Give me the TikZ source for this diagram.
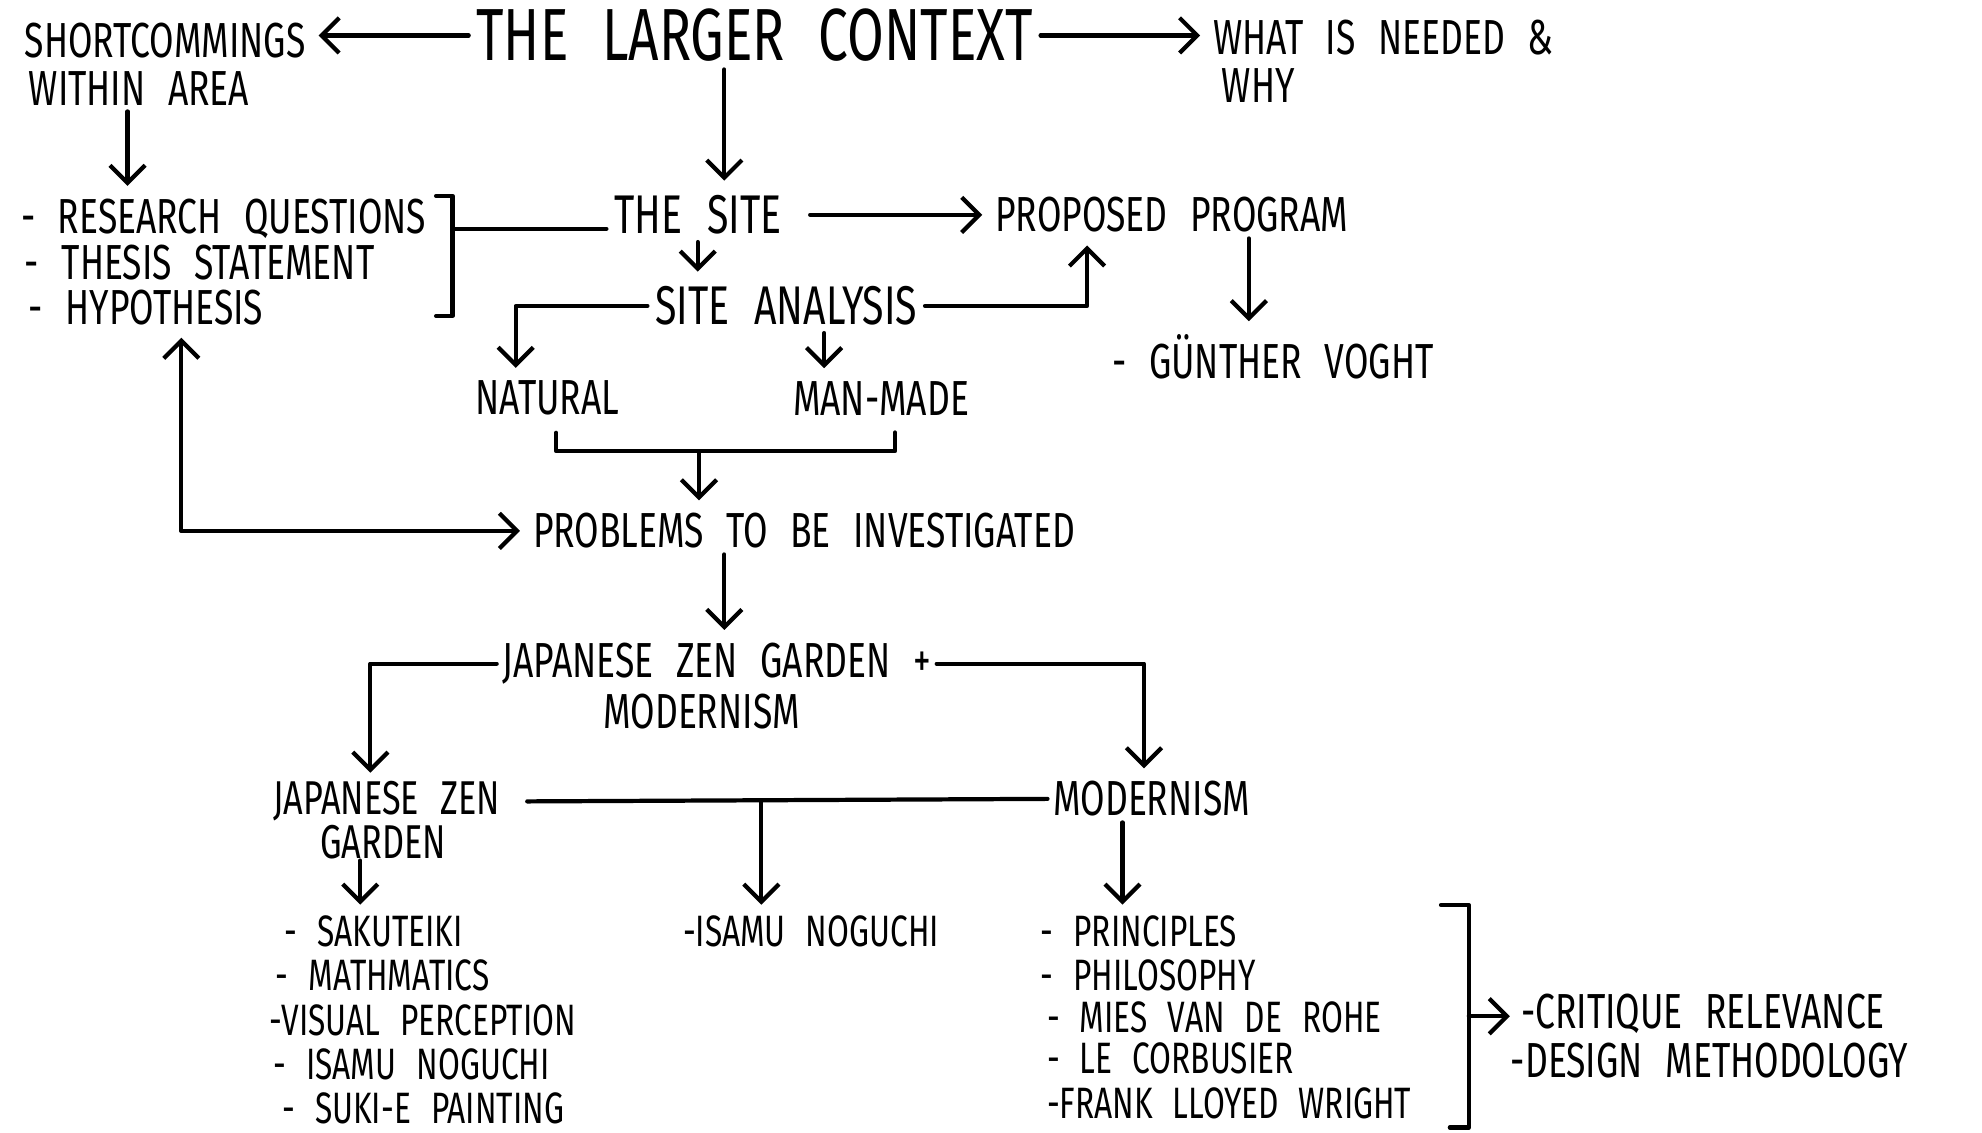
\documentclass[tikz,border=0pt]{standalone}
\usepackage{fontspec}
\setmainfont{Fira Sans}[FakeStretch=0.72, WordSpace=2.4]
\usepackage{tikz}
\usetikzlibrary{arrows.meta, calc}

\tikzset{
  big/.style={font=\fontsize{21}{23}\selectfont, inner sep=2pt},
  mid/.style={font=\fontsize{15.5}{17}\selectfont, inner sep=2pt},
  txt/.style={font=\fontsize{14}{16}\selectfont, inner sep=1.5pt},
  small/.style={font=\fontsize{12.5}{14}\selectfont, inner sep=1pt, anchor=west},
  link/.style={line width=1.2pt, line cap=round, line join=round},
  arr/.style={link, ->, shorten >=2pt},
  both/.style={link, <->, shorten >=2pt, shorten <=2pt}
}

\begin{document}
\begin{tikzpicture}[x=0.01264cm, y=-0.01264cm, >={Straight Barb[length=5pt, width=10pt]}]

  \fill[white] (0, 0) rectangle (1568, 896);
  \useasboundingbox (0, 0) rectangle (1568, 896);

  % top row
  \node[big] (ctx) at (597, 28) {THE LARGER CONTEXT};
  \node[txt, anchor=west] (short1) at (15, 32) {SHORTCOMMINGS};
  \node[txt, anchor=west] (short2) at (18, 70) {WITHIN AREA};
  \node[txt, anchor=west] (need1) at (955, 30) {WHAT IS NEEDED \&};
  \node[txt, anchor=west] (need2) at (962, 68) {WHY};

  \draw[arr] (ctx.west) -- (ctx.west -| short1.east);
  \draw[arr] (ctx.east) -- (ctx.east -| need1.west);

  % research questions
  \node[txt, anchor=west] (rq1) at (12, 173) {- RESEARCH QUESTIONS};
  \node[txt, anchor=west] (rq2) at (15, 208) {- THESIS STATEMENT};
  \node[txt, anchor=west] (rq3) at (18, 243) {- HYPOTHESIS};
  \draw[link] (345, 155) -- (358, 155) -- (358, 250) -- (345, 250);

  \coordinate (c2) at ($(short2.south)+(-9, 0)$);
  \draw[arr] (c2) -- (c2 |- rq1.north);

  % site
  \node[mid] (site) at (552, 170) {THE SITE};
  \node[txt] (prog) at (927, 170) {PROPOSED PROGRAM};
  \node[mid] (ana) at (622, 242) {SITE ANALYSIS};
  \node[txt] (nat) at (433, 315) {NATURAL};
  \node[txt] (man) at (697, 315) {MAN-MADE};
  \node[txt] (gun) at (1007, 282) {- GÜNTHER VOGHT};

  \coordinate (c1) at ($(ctx.south)+(-24, 0)$);
  \draw[arr] (c1) -- (c1 |- site.north);

  \coordinate (b1) at (358, 181);
  \draw[link] (b1) -- (b1 -| site.west);
  \draw[arr, shorten <=6pt] (site.east) -- (site.east -| prog.west);
  \draw[arr] (site.south) -- (site.south |- ana.north);

  \coordinate (c3) at ($(nat.north)+(-25, 0)$);
  \draw[arr] (ana.west) -| (c3);
  \coordinate (c4) at ($(ana.south)+(30, 0)$);
  \draw[arr] (c4) -- (c4 |- man.north);
  \coordinate (c5) at ($(prog.south)+(-67, 0)$);
  \draw[arr] (ana.east) -| (c5);
  \coordinate (c6) at ($(prog.south)+(61, 0)$);
  \draw[arr] (c6) -- (c6 |- gun.north);

  % problems
  \node[txt] (prob) at (636, 420) {PROBLEMS TO BE INVESTIGATED};

  \coordinate (nm) at (553, 357);
  \draw[link] ($(nat.south)+(7, 9)$) |- (nm) -| ($(man.south)+(11, 9)$);
  \draw[arr] (nm) -- (nm |- prob.north);

  \coordinate (c7) at ($(rq3.south)+(28, 0)$);
  \draw[both] (c7) |- (prob.west);

  % zen garden + modernism
  \node[txt] (jzg) at (567, 525) {JAPANESE ZEN GARDEN +};
  \node[txt] (jzg2) at (555, 563) {MODERNISM};
  \node[txt, inner sep=0.3pt, font=\fontsize{13.5}{15}\selectfont] (gar1) at (306, 634) {JAPANESE ZEN};
  \node[txt, inner sep=0.3pt, font=\fontsize{13.5}{15}\selectfont] (gar2) at (303, 666) {GARDEN};
  \node[txt] (mod) at (911, 632) {MODERNISM};

  \coordinate (c8) at ($(prob.south)+(-63, 0)$);
  \draw[arr] (c8) -- (c8 |- jzg.north);
  \draw[arr] (jzg.west) -| ($(gar1.north)+(-13, 0)$);
  \draw[arr] (jzg.east) -| ($(mod.north)+(-6, 0)$);
  \draw[link] ($(gar1.east)+(20, 0)$) -- (mod.west) coordinate[pos=0.45] (mj);

  % lists
  \node[small] (nog) at (537, 737) {-ISAMU NOGUCHI};
  \draw[arr] (mj) -- (mj |- nog.north);

  \foreach \t/\x/\y [count=\i] in {- SAKUTEIKI/222/737, - MATHMATICS/215/772,
      -VISUAL PERCEPTION/210/807, - ISAMU NOGUCHI/213/842, - SUKI-E PAINTING/220/877}
    \node[small] (jl\i) at (\x, \y) {\t};

  \foreach \t/\x/\y [count=\i] in {- PRINCIPLES/820/737, - PHILOSOPHY/820/772,
      - MIES VAN DE ROHE/825/805, - LE CORBUSIER/825/837, -FRANK LLOYED WRIGHT/825/873}
    \node[small] (ml\i) at (\x, \y) {\t};

  \coordinate (c9) at ($(gar2.south)+(-18, 0)$);
  \draw[arr] (c9) -- (c9 |- jl1.north);
  \coordinate (c10) at ($(mod.south)+(-23, 0)$);
  \draw[arr] (c10) -- (c10 |- ml1.north);

  % critique
  \node[txt, anchor=west, inner sep=1pt] (crit) at (1200, 802) {-CRITIQUE RELEVANCE};
  \node[txt, anchor=west, inner sep=1pt] (des) at (1192, 839) {-DESIGN METHODOLOGY};
  \draw[link] (1140, 716) -- (1162, 716) -- (1162, 892) -- (1147, 892);
  \coordinate (b2) at (1162, 804);
  \draw[arr] (b2) -- (b2 -| crit.west);

\end{tikzpicture}
\end{document}
